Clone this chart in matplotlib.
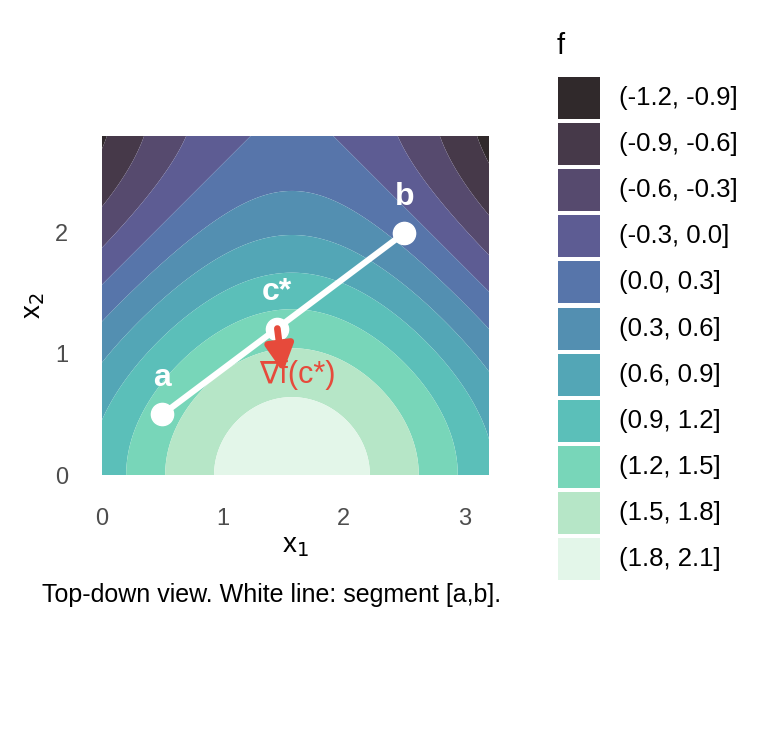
import numpy as np
import matplotlib
matplotlib.use("Agg")
import matplotlib.pyplot as plt
import seaborn as sns
from matplotlib.patches import Rectangle

plt.rcParams['font.family'] = ['Liberation Sans', 'DejaVu Sans']

# surface shown: f(x1, x2) = sin(x1) + cos(x2)
x1_range = [0.0, 3.2]
x2_range = [0.0, 2.8]
levels = [-1.2, -0.9, -0.6, -0.3, 0.0, 0.3, 0.6, 0.9, 1.2, 1.5, 1.8, 2.1]
bin_labels = ["(-1.2, -0.9]", "(-0.9, -0.6]", "(-0.6, -0.3]", "(-0.3, 0.0]",
              "(0.0, 0.3]", "(0.3, 0.6]", "(0.6, 0.9]", "(0.9, 1.2]",
              "(1.2, 1.5]", "(1.5, 1.8]", "(1.8, 2.1]"]

point_a = [0.5, 0.5]
point_b = [2.5, 2.0]
c_star = [1.45, 1.21]
grad_scale = 0.385

x_ticks = [0, 1, 2, 3]
y_ticks = [0, 1, 2]

# mako palette, 0.85 alpha over white
mako = sns.color_palette("mako", as_cmap=True)
alpha = 0.85
fill_colors = [tuple(alpha * np.array(mako(v)[:3]) + (1 - alpha))
               for v in np.linspace(0, 1, len(bin_labels))]

red = "#E64A3B"

fig = plt.figure(figsize=(7.68, 7.29), dpi=100)
W, H = 768, 729
ax = fig.add_axes([101 / W, (H - 475) / H, 389 / W, 339 / H])

g1 = np.linspace(x1_range[0], x1_range[1], 400)
g2 = np.linspace(x2_range[0], x2_range[1], 400)
X1, X2 = np.meshgrid(g1, g2)
F = np.sin(X1) + np.cos(X2)
ax.contourf(X1, X2, F, levels=levels, colors=fill_colors, antialiased=True)

# segment and points
ax.plot([point_a[0], point_b[0]], [point_a[1], point_b[1]], color="white",
        lw=4.4, solid_capstyle="butt", zorder=3)
for p in (point_a, point_b, c_star):
    ax.plot(p[0], p[1], "o", ms=16, color="white", zorder=4)

# gradient label, arrow drawn on top of it
grad = [np.cos(c_star[0]) * grad_scale, -np.sin(c_star[1]) * grad_scale]
ax.text(c_star[0] + 0.167, c_star[1] - 0.385, "\u2207f(c*)", color=red,
        fontsize=22, ha="center", va="center", zorder=5)
ax.annotate("", xy=(c_star[0] + grad[0], c_star[1] + grad[1]), xytext=(c_star[0], c_star[1]),
            arrowprops=dict(arrowstyle="-|>,head_length=0.8,head_width=0.42",
                            mutation_scale=20, color=red, lw=4.8,
                            shrinkA=0, shrinkB=0), zorder=6)

for p, lab in ((point_a, "a"), (point_b, "b"), (c_star, "c*")):
    ax.text(p[0], p[1] + 0.3, lab, color="white", fontsize=23, fontweight="bold",
            ha="center", va="center", zorder=5)

ax.set_xlim(x1_range)
ax.set_ylim(x2_range)
ax.set_aspect("equal")
ax.set_xticks(x_ticks)
ax.set_yticks(y_ticks)
ax.tick_params(length=0, labelsize=17, labelcolor="#4D4D4D", pad=24)
for s in ax.spines.values():
    s.set_visible(False)
ax.set_xlabel(r"x$_1$", fontsize=20, labelpad=2)
ax.set_ylabel(r"x$_2$", fontsize=20, labelpad=6)

fig.text(42 / W, 1 - 595 / H, "Top-down view. White line: segment [a,b].",
         fontsize=18, ha="left", va="center")

# legend
lax = fig.add_axes([0, 0, 1, 1])
lax.set_xlim(0, W)
lax.set_ylim(H, 0)
lax.axis("off")
lax.text(557, 46, "f", fontsize=21, ha="left", va="center")
for i, (col, lab) in enumerate(zip(fill_colors, bin_labels)):
    top = 77 + i * 46.1
    lax.add_patch(Rectangle((558, top), 42, 42, color=col, lw=0))
    lax.text(619, top + 21, lab, fontsize=18.5, ha="left", va="center")

fig.savefig("out.png", dpi=100)
